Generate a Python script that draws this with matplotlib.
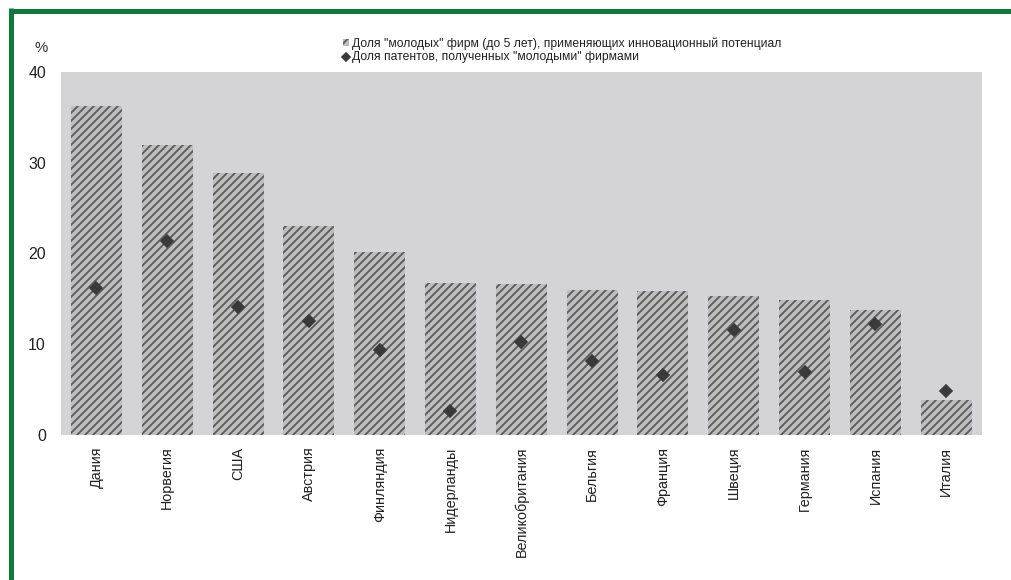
import matplotlib
matplotlib.use('Agg')
import matplotlib.pyplot as plt
from matplotlib.patches import Patch
from matplotlib.lines import Line2D

# ── Data ───────────────────────────────────────────────────────────────────────
countries = ['Дания', 'Норвегия', 'США', 'Австрия', 'Финляндия', 'Нидерланды',
             'Великобритания', 'Бельгия', 'Франция', 'Швеция', 'Германия',
             'Испания', 'Италия']
young_firms = [36.2, 31.9, 28.9, 23.0, 20.2, 16.8, 16.6, 16.0, 15.9, 15.3, 14.9, 13.8, 3.9]
patents = [16.2, 21.4, 14.1, 12.6, 9.4, 2.6, 10.2, 8.1, 6.6, 11.6, 6.9, 12.2, 4.8]
yticks = [0, 10, 20, 30, 40]

label_bars = 'Доля "молодых" фирм (до 5 лет), применяющих инновационный потенциал'
label_pts = 'Доля патентов, полученных "молодыми" фирмами'

# ── Style ──────────────────────────────────────────────────────────────────────
DPI = 120
plt.rcParams['font.family'] = ['Liberation Sans', 'DejaVu Sans']
plt.rcParams['hatch.linewidth'] = 1.1
plt.rcParams['hatch.color'] = '#5a5a5a'

BG = '#d4d4d6'
BAR_FACE = '#bebebe'
HATCH = '/////'
DIAMOND = '#3a3a3a'
GREEN = '#0b7a3a'

fig = plt.figure(figsize=(1011 / DPI, 580 / DPI), dpi=DPI)
fig.patch.set_facecolor('white')
ax = fig.add_axes([0.0603, 0.25, 0.9107, 0.6259])
ax.set_facecolor(BG)

x = range(len(countries))
ax.bar(x, young_firms, width=0.72, color=BAR_FACE, hatch=HATCH,
       edgecolor='#5a5a5a', linewidth=0, zorder=2)
ax.plot(x, patents, linestyle='none', marker='D', markersize=5.5,
        color=DIAMOND, zorder=3)

ax.set_xlim(-0.5, len(countries) - 0.5)
ax.set_ylim(0, 40)
ax.set_yticks(yticks)
ax.set_yticklabels([str(v) for v in yticks], fontsize=9.5, color='#222222')
ax.set_xticks(list(x))
ax.set_xticklabels(countries, rotation=90, fontsize=8.6, color='#222222')
ax.tick_params(axis='y', length=0, pad=9)
ax.tick_params(axis='x', length=0, pad=7)
for sp in ax.spines.values():
    sp.set_visible(False)

fig.text(0.041, 0.917, '%', fontsize=9, color='#333333', ha='center', va='center')

handles = [Patch(facecolor=BAR_FACE, hatch='///', edgecolor='#5a5a5a', linewidth=0),
           Line2D([], [], linestyle='none', marker='D', markersize=3.5, color=DIAMOND)]
fig.legend(handles, [label_bars, label_pts], loc='upper left',
           bbox_to_anchor=(0.339, 0.936), frameon=False, fontsize=7.3,
           handlelength=0.5, handleheight=0.5, handletextpad=0.3,
           labelspacing=0.15, borderaxespad=0, borderpad=0, labelcolor='#222222')

# green frame (only top and left edges are visible in the crop)
fig.add_artist(Line2D([0.0107, 1.0], [0.9814, 0.9814], color=GREEN, linewidth=3.0,
                      transform=fig.transFigure, solid_capstyle='butt'))
fig.add_artist(Line2D([0.0107, 0.0107], [0.0, 0.9814 + 0.0043], color=GREEN, linewidth=3.0,
                      transform=fig.transFigure, solid_capstyle='butt'))

fig.savefig('out.png', dpi=DPI)
